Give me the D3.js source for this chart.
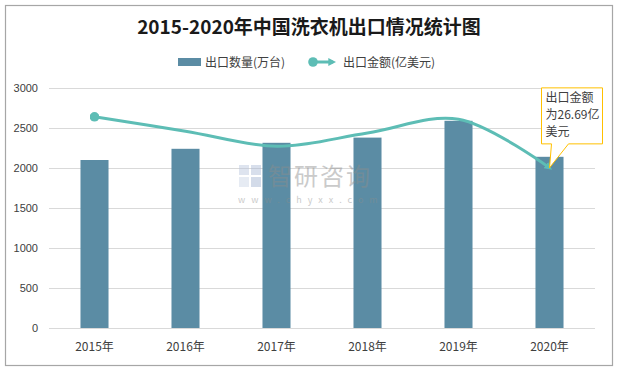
<!DOCTYPE html>
<html>
<head>
<meta charset="utf-8">
<script src="https://cdn.jsdelivr.net/npm/d3@7"></script>
<style>
  body { margin: 0; background: #fff; }
  svg text { font-family: "Noto Sans CJK SC", "Noto Sans", sans-serif; }
</style>
</head>
<body>
<svg id="chart" width="617" height="370"></svg>
<script>
// data
var years = ["2015年", "2016年", "2017年", "2018年", "2019年", "2020年"];
var quantity = [2100, 2240, 2315, 2380, 2590, 2140];   // 出口数量(万台)
var amount = [35.2, 32.8, 30.3, 32.5, 34.8, 26.69];   // 出口金额(亿美元)
var yTicks = [0, 500, 1000, 1500, 2000, 2500, 3000];

var svg = d3.select("#chart");

var plotLeft = 49, plotRight = 595, plotTop = 88, plotBottom = 328;

// outer frame
svg.append("rect")
    .attr("x", 5.5).attr("y", 5.5)
    .attr("width", 607).attr("height", 360)
    .style("fill", "#fff")
    .style("stroke", "#a6a6a6")
    .style("stroke-width", 1.2);

// title
svg.append("text")
    .attr("x", 309).attr("y", 34)
    .style("text-anchor", "middle")
    .style("font-size", "19px")
    .style("font-weight", "bold")
    .style("fill", "#1a1a1a")
    .text("2015-2020年中国洗衣机出口情况统计图");

var xScale = d3.scaleBand().domain(years).range([plotLeft, plotRight]).paddingInner(0.692).paddingOuter(0.346);
var yScale = d3.scaleLinear().domain([0, 3000]).range([plotBottom, plotTop]);
var y2Scale = d3.scaleLinear().domain([0, 40]).range([plotBottom, plotTop]);

// grid lines
svg.append("g").selectAll("line")
    .data(yTicks)
    .enter().append("line")
    .attr("x1", plotLeft).attr("x2", plotRight)
    .attr("y1", function(d){ return Math.round(yScale(d)) + 0.5; })
    .attr("y2", function(d){ return Math.round(yScale(d)) + 0.5; })
    .style("stroke", "#d9d9d9")
    .style("stroke-width", 1);

// y axis labels
var yAxis = d3.axisLeft(yScale).tickValues(yTicks).tickFormat(d3.format("d")).tickSize(0).tickPadding(11);
var yg = svg.append("g").attr("transform", "translate(" + plotLeft + ",0)").call(yAxis);
yg.select(".domain").remove();
yg.selectAll("text").style("font-size", "11px").style("fill", "#404040")
    .style("font-family", "'Liberation Sans', Arial, sans-serif");

// x axis labels
var xAxis = d3.axisBottom(xScale).tickSize(0).tickPadding(14);
var xg = svg.append("g").attr("transform", "translate(0," + plotBottom + ")").call(xAxis);
xg.select(".domain").remove();
xg.selectAll("text").style("font-size", "12px").style("fill", "#404040");

// bars
svg.append("g").selectAll("rect")
    .data(quantity)
    .enter().append("rect")
    .attr("x", function(d, i){ return xScale(years[i]); })
    .attr("width", xScale.bandwidth())
    .attr("y", function(d){ return yScale(d); })
    .attr("height", function(d){ return plotBottom - yScale(d); })
    .style("fill", "#5b8ca4");

// watermark
var wm = svg.append("g").style("opacity", 0.45);
wm.append("rect").attr("x", 239).attr("y", 165).attr("width", 10).attr("height", 10).style("fill", "#b8c4dc");
wm.append("rect").attr("x", 251).attr("y", 165).attr("width", 10).attr("height", 10).style("fill", "#a9b9d6");
wm.append("rect").attr("x", 239).attr("y", 177).attr("width", 10).attr("height", 10).style("fill", "#c9d3e6");
wm.append("rect").attr("x", 251).attr("y", 177).attr("width", 10).attr("height", 10).style("fill", "#9fb0cf");
wm.append("text").attr("x", 268).attr("y", 185)
    .style("font-size", "24px").style("fill", "#8c8c8c").style("letter-spacing", "2px")
    .text("智研咨询");
wm.append("text").attr("x", 238).attr("y", 203)
    .style("font-size", "9px").style("fill", "#8c8c8c").style("letter-spacing", "6px")
    .text("www.chyxx.com");

// line series
var defs = svg.append("defs");
defs.append("marker")
    .attr("id", "dot").attr("viewBox", "0 0 10 10")
    .attr("refX", 5).attr("refY", 5)
    .attr("markerWidth", 3.2).attr("markerHeight", 3.2)
    .attr("markerUnits", "strokeWidth")
    .append("circle").attr("cx", 5).attr("cy", 5).attr("r", 5).style("fill", "#5dbdb5");
defs.append("marker")
    .attr("id", "arrow").attr("viewBox", "0 0 10 10")
    .attr("refX", 6).attr("refY", 5)
    .attr("markerWidth", 2.6).attr("markerHeight", 2.6)
    .attr("markerUnits", "strokeWidth")
    .attr("orient", "auto")
    .append("path").attr("d", "M0,0 L10,5 L0,10 Z").style("fill", "#5dbdb5");

var line = d3.line()
    .x(function(d, i){ return xScale(years[i]) + xScale.bandwidth() / 2; })
    .y(function(d){ return y2Scale(d); })
    .curve(d3.curveCatmullRom.alpha(0.5));

svg.append("path")
    .datum(amount)
    .attr("d", line)
    .style("fill", "none")
    .style("stroke", "#5dbdb5")
    .style("stroke-width", 3)
    .attr("marker-start", "url(#dot)")
    .attr("marker-end", "url(#arrow)");

// callout for 2020
var tipX = xScale(years[5]) + xScale.bandwidth() / 2;
var tipY = y2Scale(amount[5]);
var bx0 = tipX - 8, bx1 = tipX + 53, by0 = tipY - 80, by1 = tipY - 24;
svg.append("path")
    .attr("d", "M" + bx0 + "," + by0 + " L" + bx1 + "," + by0 + " L" + bx1 + "," + by1 +
        " L" + (tipX + 19) + "," + by1 + " L" + tipX + "," + tipY + " L" + (tipX + 2) + "," + by1 +
        " L" + bx0 + "," + by1 + " Z")
    .style("fill", "#fff")
    .style("stroke", "#ffc000")
    .style("stroke-width", 1);
var callout = ["出口金额", "为" + amount[5] + "亿", "美元"];
svg.append("g").selectAll("text")
    .data(callout)
    .enter().append("text")
    .attr("x", bx0 + 4)
    .attr("y", function(d, i){ return by0 + 14 + i * 17; })
    .style("font-size", "12px")
    .style("fill", "#404040")
    .text(function(d){ return d; });

// legend
var lg = svg.append("g");
lg.append("rect").attr("x", 178).attr("y", 58).attr("width", 23).attr("height", 8).style("fill", "#5b8ca4");
lg.append("text").attr("x", 205).attr("y", 66.5).style("font-size", "12px").style("fill", "#404040").text("出口数量(万台)");
lg.append("line").attr("x1", 313).attr("x2", 333).attr("y1", 62).attr("y2", 62)
    .style("stroke", "#5dbdb5").style("stroke-width", 3)
    .attr("marker-start", "url(#dot)").attr("marker-end", "url(#arrow)");
lg.append("text").attr("x", 343).attr("y", 66.5).style("font-size", "12px").style("fill", "#404040").text("出口金额(亿美元)");
</script>
</body>
</html>
